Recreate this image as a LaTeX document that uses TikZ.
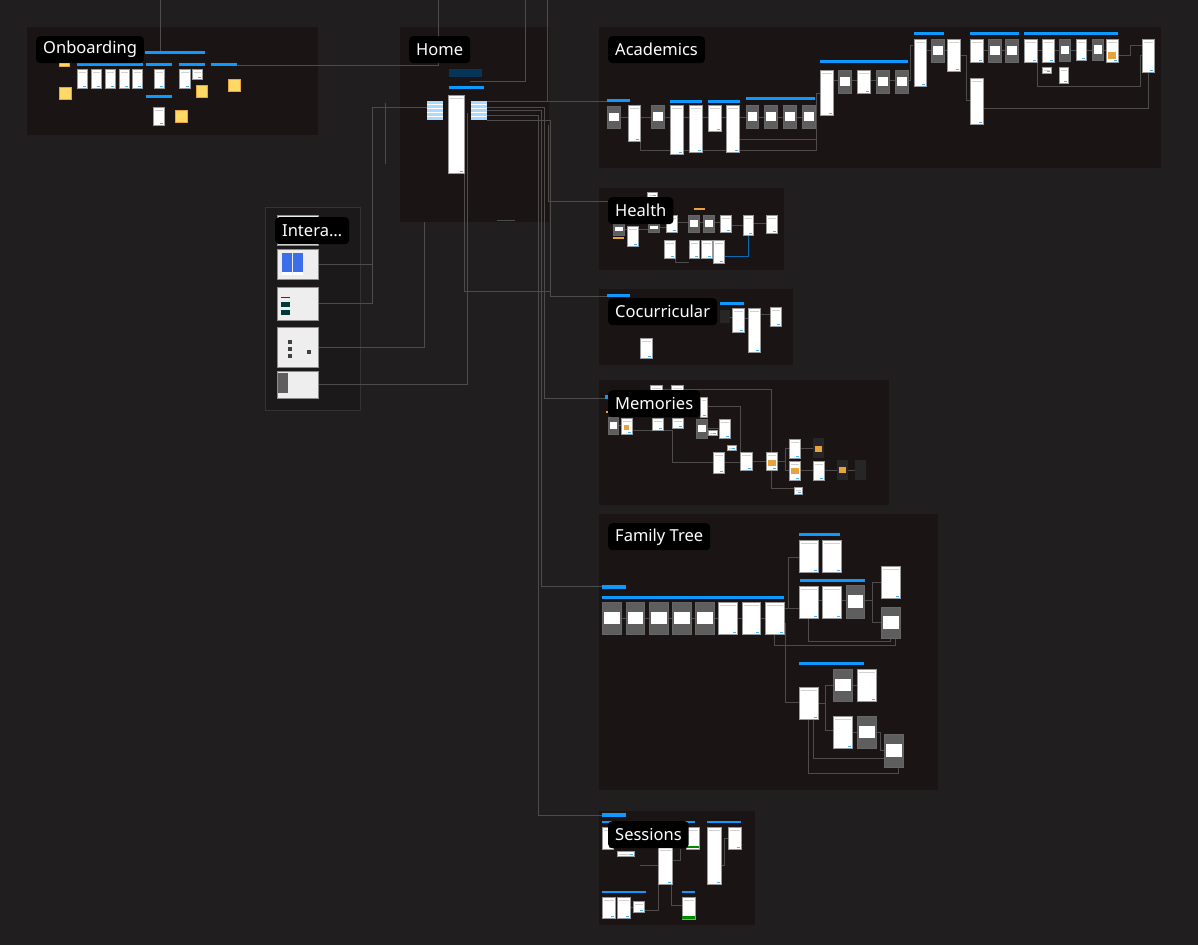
\documentclass[tikz,border=0pt]{standalone}
\usepackage{fontspec}
\setmainfont{Noto Sans}
\usepackage{xcolor}
\usepackage{tikz}
\usetikzlibrary{
arrows.meta,
positioning
}
\definecolor{figbg}{HTML}{201E1E}
\definecolor{figsection}{HTML}{1B1414}
\definecolor{figwire}{HTML}{4E4B4B}
\definecolor{figblue}{HTML}{0D99FF}
\definecolor{figphone}{HTML}{3D6EEA}
\definecolor{figgray}{HTML}{5E5E5E}
\definecolor{figyellow}{HTML}{FFD966}
\definecolor{figorange}{HTML}{E8A33D}
\definecolor{figpale}{HTML}{EEEEEE}

\begin{document}
\begin{tikzpicture}[
  x=1pt, y=-1pt,
  section/.style={fill=figsection, inner sep=0pt, anchor=north west},
  tag/.style={fill=black, text=white, rounded corners=4pt, inner xsep=7pt, inner ysep=0pt, minimum height=27pt, font=\fontsize{16.5}{18}\selectfont},
  scr/.style={fill=white, draw=black!40, line width=0.3pt},
  gscr/.style={fill=figgray, draw=black!60, line width=0.3pt},
  bar/.style={fill=figblue},
  note/.style={fill=figyellow, draw=figorange, line width=0.5pt},
  wire/.style={draw=figwire, line width=0.6pt}
]

% Canvas
\useasboundingbox (0,0) rectangle (1198,945);
\fill[figbg] (0,0) rectangle (1198,945);

% Section frames
\node[section, minimum width=291pt, minimum height=108pt] (onb) at (27,27) {};
\node[section, minimum width=149pt, minimum height=195pt] (home) at (400,27) {};
\node[section, minimum width=562pt, minimum height=141pt] (acad) at (599,27) {};
\node[section, minimum width=185pt, minimum height=82pt] (health) at (599,188) {};
\node[section, minimum width=194pt, minimum height=76pt] (cocur) at (599,289) {};
\node[section, minimum width=290pt, minimum height=125pt] (mem) at (599,380) {};
\node[section, minimum width=339pt, minimum height=276pt] (family) at (599,514) {};
\node[section, minimum width=156pt, minimum height=114pt] (sess) at (599,811) {};
\node[section, fill=figbg!85!black, draw=white!9!figbg, line width=0.5pt, minimum width=95pt, minimum height=203pt] (inter) at (265,207) {};

% Connectors between sections
\draw[wire] (160,0) -- (160,52);
\draw[wire] (438,0) -- (438,65) -- (237,65);
\draw[wire] (525,0) -- (525,81) -- (470,81);
\draw[wire] (547,0) -- (547,101);
\draw[wire] (487,101) -- (607,101);
\draw[wire] (427,107) -- (372,107) -- (372,303) -- (318,303);
\draw[wire] (372,264) -- (318,264);
\draw[wire] (385,103) -- (385,164);
\draw[wire] (424,222) -- (424,347) -- (318,347);
\draw[wire] (467,113) -- (467,384) -- (318,384);
\draw[wire] (464,130) -- (464,291) -- (550,291);
\draw[wire] (487,115) -- (538,115) -- (538,815) -- (602,815);
\draw[wire] (487,110) -- (541,110) -- (541,586) -- (602,586);
\draw[wire] (487,107) -- (544,107) -- (544,398) -- (605,398);
\draw[wire] (487,120) -- (550,120) -- (550,296) -- (607,296);
\draw[wire] (548,125) -- (548,201) -- (608,201);
\draw[wire] (497,220) -- (515,220);

% Connectors inside sections
\foreach \a/\b/\c in {619/628/117, 640/652/117, 664/671/117, 683/689/117, 702/708/117, 721/726/117, 739/746/117, 758/764/117, 777/783/117, 796/802/117,
  834/838/80, 851/857/80, 870/876/80, 889/895/80, 926/931/50, 944/947/50, 983/988/50, 1001/1005/50, 1037/1042/50, 1054/1059/50, 1070/1076/50, 1086/1092/50, 1103/1106/50,
  624/627/229, 638/648/229, 659/666/227, 677/688/222, 699/703/222, 714/720/222, 731/743/225, 753/766/223,
  744/748/318, 760/770/314, 730/732/317,
  662/671/389, 618/621/425, 707/719/428, 724/740/462, 752/766/461, 800/813/470, 824/837/470, 848/855/470, 800/813/448,
  621/626/618, 644/649/618, 668/672/618, 691/695/618, 714/718/618, 737/742/618, 760/765/618, 818/822/600, 841/846/600, 852/857/685, 852/857/732,
  640/658/865, 630/633/907}
  \draw[wire] (\a,\c) -- (\b,\c);
\draw[wire] (740,139) -- (816,139) -- (816,93) -- (820,93);
\draw[wire] (640,140) -- (640,150) -- (816,150) -- (816,118);
\draw[wire] (907,80) -- (910,80) -- (910,45) -- (913,45);
\draw[wire] (960,55) -- (966,55) -- (966,100) -- (970,100);
\draw[wire] (983,108) -- (1148,108) -- (1148,72);
\draw[wire] (1037,62) -- (1037,86) -- (1140,86) -- (1140,55) -- (1142,55);
\draw[wire] (1118,55) -- (1130,55) -- (1130,45) -- (1142,45);
\draw[wire] (675,258) -- (675,262) -- (689,262);
\draw[draw=figblue!70!black, line width=0.7pt] (724,256) -- (748,256) -- (748,235);
\draw[wire] (683,389) -- (771,389) -- (771,452);
\draw[wire] (632,430) -- (672,430) -- (672,462) -- (713,462);
\draw[wire] (683,406) -- (740,406) -- (740,452);
\draw[wire] (777,461) -- (785,461) -- (785,448) -- (789,448);
\draw[wire] (785,461) -- (785,470) -- (789,470);
\draw[wire] (771,470) -- (771,488) -- (794,488);
\draw[wire] (784,608) -- (788,608) -- (788,557) -- (799,557);
\draw[wire] (788,608) -- (799,608);
\draw[wire] (784,623) -- (785,623) -- (785,702) -- (799,702);
\draw[wire] (864,600) -- (872,600) -- (872,582) -- (881,582);
\draw[wire] (872,600) -- (872,622) -- (881,622);
\draw[wire] (808,618) -- (808,641) -- (890,641) -- (890,638);
\draw[wire] (774,634) -- (774,645) -- (895,645) -- (895,638);
\draw[wire] (818,703) -- (825,703) -- (825,685) -- (833,685);
\draw[wire] (825,703) -- (825,730) -- (833,730);
\draw[wire] (876,732) -- (880,732) -- (880,750) -- (884,750);
\draw[wire] (813,719) -- (813,758) -- (893,758) -- (893,767);
\draw[wire] (808,719) -- (808,773) -- (898,773) -- (898,767);
\draw[wire] (672,860) -- (680,860) -- (680,849);
\draw[wire] (721,865) -- (724,865) -- (724,838) -- (728,838);
\draw[wire] (671,884) -- (671,905) -- (682,905);
\draw[wire] (658,884) -- (658,910) -- (644,910);

% Blue title bars
\foreach \x/\y/\w/\h in {145/51/60/3, 77/63/66/3, 146/63/26/3, 179/63/26/3, 211/63/26/3, 146/95/26/3,
  449/86/35/3,
  607/99/23/3, 670/100/32/3, 708/100/32/3, 746/97/69/3, 820/60/88/3, 914/32/30/3, 970/32/49/3, 1024/32/94/3,
  607/294/23/3, 720/302/24/3, 605/395/5/4,
  602/585/24/4, 602/596/182/3, 799/533/41/3, 800/579/65/3, 799/662/65/3,
  602/813/24/4, 602/821/93/2, 707/821/34/2, 602/891/44/2, 682/891/13/2,
  280/290/23/3, 280/331/23/3}
  \fill[bar] (\x,\y) rectangle ++(\w,\h);

% White screens
\foreach \x/\y/\w/\h in {77/69/10/19, 91/69/10/19, 105/69/10/19, 119/69/10/19, 132/69/10/19, 154/69/10/19, 179/69/11/19, 192/69/10/10, 153/107/11/18,
  448/95/16/78,
  628/105/12/36, 670/105/13/49, 689/105/13/47, 708/105/13/26, 726/105/13/47, 820/70/13/45, 857/70/13/23, 914/39/12/47, 947/39/13/32, 970/39/13/23, 970/78/13/46, 1024/39/13/23, 1042/39/12/23, 1076/39/10/21, 1106/39/12/23, 1142/39/12/33, 1042/67/9/6, 1059/67/9/16,
  627/226/11/20, 666/215/11/17, 720/215/11/17, 743/215/10/20, 766/215/11/18, 664/240/11/18, 689/240/10/18, 701/240/11/18, 713/240/11/23, 647/192/10/5,
  732/308/12/24, 748/308/12/44, 770/307/11/19, 640/338/12/20,
  650/385/12/8, 671/385/12/8, 700/397/7/20, 621/418/11/16, 652/418/11/12, 672/418/11/10, 719/419/11/19, 708/430/9/5, 713/452/11/21, 740/452/12/18, 727/445/9/5, 766/452/11/18, 789/439/11/19, 789/461/11/19, 813/461/11/19, 794/487/8/7,
  718/602/19/32, 742/602/18/32, 765/602/19/32, 799/540/19/32, 822/540/19/32, 799/586/19/32, 822/586/19/32, 881/566/19/32, 799/687/19/32, 857/669/19/32, 833/716/19/32,
  602/827/11/22, 658/847/14/37, 707/827/14/57, 728/827/13/22, 686/827/13/22, 617/851/17/5, 602/897/13/21, 617/897/13/21, 633/901/11/11, 682/897/13/22}
{
  \path[scr] (\x,\y) rectangle ++(\w,\h);
  \fill[black!18] (\x+1.5,\y+3) rectangle ++(\w-3,0.8);
  \fill[figblue!75] (\x+\w-4,\y+\h-2.5) rectangle ++(3,1.5);
}

% Grey screens with dialog cards
\foreach \x/\y/\w/\h in {607/106/13/22, 651/105/13/23, 746/105/12/23, 764/105/13/23, 783/105/13/23, 802/105/13/23, 838/70/13/23, 876/70/13/23, 895/70/13/23, 931/39/13/23, 988/39/13/23, 1005/39/13/23, 1059/39/11/22, 1092/39/11/21,
  613/223/11/12, 648/223/11/9, 688/215/11/17, 703/215/11/17,
  608/417/10/17, 696/419/11/19,
  602/602/19/32, 626/602/18/32, 649/602/19/32, 672/602/19/32, 695/602/19/32, 846/585/18/33, 881/607/19/31, 833/669/19/32, 857/716/19/32, 884/734/19/33}
{
  \path[gscr] (\x,\y) rectangle ++(\w,\h);
  \fill[white] (\x+1.5,\y+0.3*\h) rectangle ++(\w-3,0.4*\h);
}

% Dark screens and photos
\foreach \x/\y/\w/\h in {813/438/11/20, 837/460/11/20, 855/460/11/20, 720/310/10/13}
  \fill[black!85] (\x,\y) rectangle ++(\w,\h);
\foreach \x/\y/\w/\h in {768/460/8/6, 815/446/7/6, 839/467/7/6, 791/468/8/6, 624/425/5/5, 1108/52/8/7, 694/208/11/2, 613/237/11/2, 606/411/4/2}
  \fill[figorange] (\x,\y) rectangle ++(\w,\h);
\fill[green!55!black] (682,916) rectangle ++(13,3);
\fill[green!55!black] (686,846) rectangle ++(13,2);

% Sticky notes
\foreach \x/\y/\w/\h in {59/87/12/12, 196/85/11/12, 228/79/12/12, 175/110/12/12, 59/62/10/4}
  \path[note] (\x,\y) rectangle ++(\w,\h);

% Home details
\fill[figblue!35!black] (449,69) rectangle ++(33,8);
\foreach \x in {427, 471} {
  \fill[figblue!35] (\x,101) rectangle ++(16,19);
  \foreach \k in {104, 108, 112, 116}
    \draw[white, line width=0.8pt] (\x,\k) -- ++(16,0);
}

% Interactions previews
\foreach \y/\h in {215/30, 249/30, 287/33, 327/40, 371/27}
  \path[fill=figpale, draw=black!45, line width=0.5pt] (277,\y) rectangle ++(41,\h);
\fill[figphone] (282,253) rectangle ++(10,22);
\fill[figphone] (293,253) rectangle ++(10,22);
\fill[white] (282,272) rectangle ++(10,3);
\fill[white] (293,272) rectangle ++(10,3);
\fill[black!80] (281,297) rectangle ++(9,1);
\fill[teal!45!black] (281,302) rectangle ++(9,5);
\fill[teal!45!black] (281,310) rectangle ++(9,5);
\foreach \k in {340, 347, 354}
  \fill[black!75] (288,\k) rectangle ++(4,4);
\fill[black!75] (307,350) rectangle ++(4,4);
\fill[figgray] (278,373) rectangle ++(10,20);

% Section labels
\node[tag, below right=9pt and 9pt of onb.north west] (onbtag) {Onboarding};
\node[tag, below right=9pt and 9pt of home.north west] (hometag) {Home};
\node[tag, below right=9pt and 9pt of acad.north west] (acadtag) {Academics};
\node[tag, below right=9pt and 9pt of health.north west] (healthtag) {Health};
\node[tag, below right=9pt and 9pt of cocur.north west] (cocurtag) {Cocurricular};
\node[tag, below right=10pt and 9pt of mem.north west] (memtag) {Memories};
\node[tag, below right=9pt and 9pt of family.north west] (familytag) {Family Tree};
\node[tag, below right=10pt and 9pt of sess.north west] (sesstag) {Sessions};
\node[tag, below right=10pt and 10pt of inter.north west] (intertag) {Intera…};

\end{tikzpicture}
\end{document}
